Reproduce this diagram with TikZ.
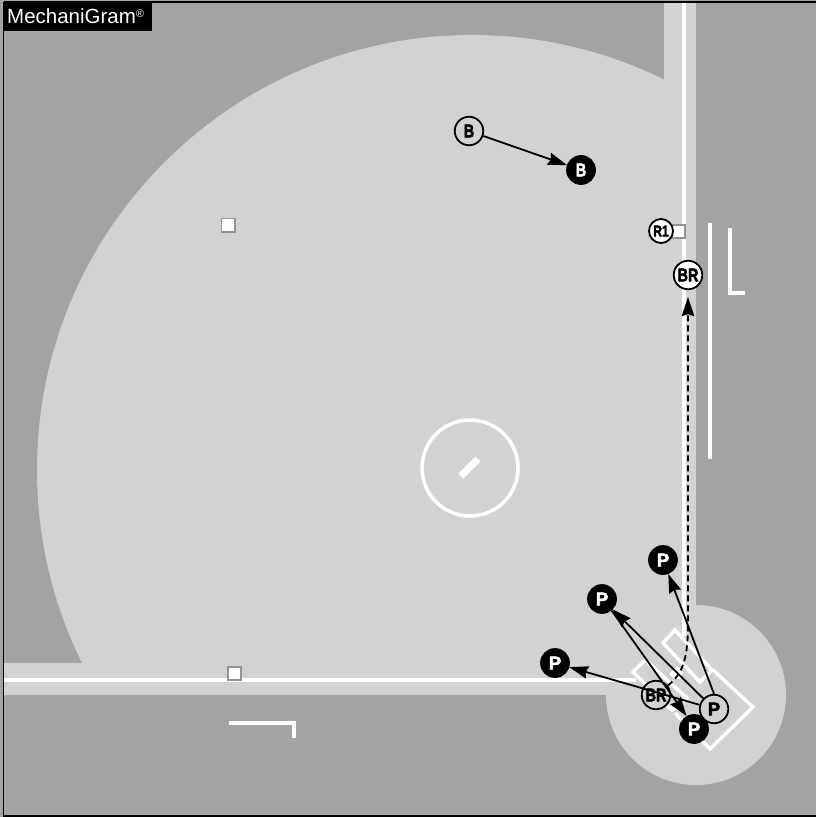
\documentclass[tikz,border=0pt]{standalone}
\usepackage{fontspec}
\usepackage{graphicx}
\setmainfont{Liberation Sans}
\newfontfamily\heavy[BoldFeatures={FakeBold=3}]{Liberation Sans}
\usetikzlibrary{arrows.meta}
\definecolor{dirt}{HTML}{A3A3A3}
\definecolor{grass}{HTML}{D2D2D2}
\newcommand{\tg}[1]{\scalebox{.78}[1]{#1}}
\tikzset{
  x=1pt,y=-1pt,
  chalk/.style={draw=white,line width=3.5pt,line join=miter},
  basebag/.style={draw=gray!85,fill=white,line width=1.2pt},
  player/.style={circle,draw=black,line width=1.8pt,inner sep=0pt,align=center,font=\heavy\bfseries\fontsize{18.5}{18.5}\selectfont},
  open/.style={player,fill=grass,minimum size=28.5pt},
  openw/.style={player,fill=white,minimum size=28.5pt},
  small/.style={player,fill=white,minimum size=24pt,font=\heavy\bfseries\fontsize{15.5}{15.5}\selectfont},
  solid p/.style={player,fill=black,text=white,minimum size=28pt},
  tip/.style={-{Stealth[length=19pt,width=12.5pt,inset=2pt]}},
  move/.style={draw=black,line width=1.8pt,tip},
}
\begin{document}
\begin{tikzpicture}
\useasboundingbox (0,0) rectangle (816,817);
\fill[dirt] (0,0) rectangle (816,817);
\begin{scope}
\clip (4,3) rectangle (664,663);
\fill[grass] (472,470) circle[radius=435];
\end{scope}
\fill[grass] (664,3) rectangle (696,700);
\fill[grass] (4,663) rectangle (700,695);
\fill[grass] (696,695) circle[radius=90];
% foul lines
\draw[chalk] (684,3) -- (684,636);
\draw[chalk] (4,680) -- (636,680);
% mound
\draw[white,line width=3.5pt] (470,468) circle[radius=48];
\draw[white,line width=7pt] (461,476) -- (478,459);
% boxes
\draw[chalk] (713,670) -- (753,707) -- (710,749) -- (675,713);
\draw[chalk] (675,630) -- (663,643) -- (700,682) -- (712,670) -- cycle;
\draw[chalk] (645,660) -- (633,672) -- (672,710) -- (687,698) -- cycle;
% plate
\fill[white,draw=gray!60,line width=.6pt] (677,665) -- (684,672) -- (681,680) -- (673,679) -- (668,674) -- cycle;
% coach boxes
\draw[chalk] (710,223) -- (710,459);
\draw[chalk] (730,228) -- (730,293) -- (745,293);
\draw[chalk] (229,723) -- (294,723) -- (294,738);
% bases
\draw[basebag] (221.5,218.5) rectangle (235,232);
\draw[basebag] (228,667) rectangle (241,680);
\draw[basebag] (672,225) rectangle (685,238);
% players
\node[open] (b1) at (469,131) {\tg{B}};
\node[solid p] (b2) at (581,170) {\tg{B}};
\node[small] (r1) at (661,231) {\tg{R1}};
\node[openw] (br2) at (688,275) {\tg{BR}};
\node[open] (br1) at (656,695) {\tg{BR}};
\node[solid p] (p1) at (663,560) {P};
\node[solid p] (p2) at (602,599) {P};
\node[solid p] (p3) at (555,663) {P};
\node[open] (p0) at (714,709) {P};
\node[solid p] (p4) at (694,729) {P};
\draw[move] (b1) -- (b2);
\draw[move] (p0.90) -- (p1);
\draw[move] (p0) -- (p2);
\draw[move] (p0) -- (p3);
\draw[move] (p2.-50) -- (p4.120);
\draw[draw=black,line width=1.8pt,dash pattern=on 6pt off 4pt,tip,shorten >=7pt] (br1) .. controls (681,675) and (688,662) .. (688,625) -- (br2);
% label
\fill[black] (4,2) rectangle (152,31);
\node[anchor=base west,text=white,inner sep=0pt,font=\fontsize{20.5}{20.5}\selectfont] (lab) at (7,23) {MechaniGram\raisebox{6pt}{\fontsize{11}{11}\selectfont ®}};
% frame
\draw[black,line width=1.5pt] (3.5,2) -- (3.5,816) -- (816,816);
\draw[black,line width=1.5pt] (3.5,2) -- (816,2);
\end{tikzpicture}
\end{document}
